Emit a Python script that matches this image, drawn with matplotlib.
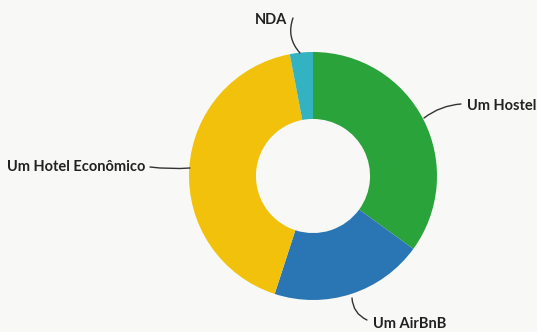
import matplotlib
matplotlib.use("Agg")
import matplotlib.pyplot as plt

labels = ["Um Hostel", "Um AirBnB", "Um Hotel Econômico", "NDA"]
values = [35, 20, 42, 3]
colors = ["#2ba33b", "#2a76b5", "#f1c10c", "#33b2c1"]

W, H = 537, 332
fig = plt.figure(figsize=(W / 100, H / 100), dpi=100)
fig.patch.set_facecolor("#f8f8f6")
ax = fig.add_axes([0, 0, 1, 1])

cx, cy, R = 313, H - 176, 124
ax.pie(values, colors=colors, startangle=90, counterclock=False,
       center=(cx, cy), radius=R, frame=True,
       wedgeprops=dict(width=R * 0.54, linewidth=0))
ax.set_xlim(0, W)
ax.set_ylim(0, H)
ax.set_aspect("equal")
ax.axis("off")

font = dict(family=["Lato", "DejaVu Sans"], fontsize=10.5, fontweight="bold", color="#222222")
line = dict(arrowstyle="-", color="#333333", lw=1.0, shrinkA=0, shrinkB=0)

# NDA
ax.text(271, H - 20, labels[3], ha="center", va="center", **font)
ax.annotate("", xy=(300, H - 53), xytext=(293, H - 18),
            arrowprops=dict(connectionstyle="arc3,rad=0.3", **line))
# Hostel
ax.text(467, H - 106, labels[0], ha="left", va="center", **font)
ax.annotate("", xy=(424, H - 118), xytext=(461, H - 104),
            arrowprops=dict(connectionstyle="arc3,rad=0.15", **line))
# Econômico
ax.text(7, H - 167, labels[2], ha="left", va="center", **font)
ax.annotate("", xy=(190, H - 168), xytext=(150, H - 167),
            arrowprops=dict(connectionstyle="arc3,rad=0.05", **line))
# AirBnB
ax.text(373, H - 324, labels[1], ha="left", va="center", **font)
ax.annotate("", xy=(352, H - 298), xytext=(367, H - 320),
            arrowprops=dict(connectionstyle="arc3,rad=-0.3", **line))

fig.savefig("out.png", dpi=100, facecolor=fig.get_facecolor())
